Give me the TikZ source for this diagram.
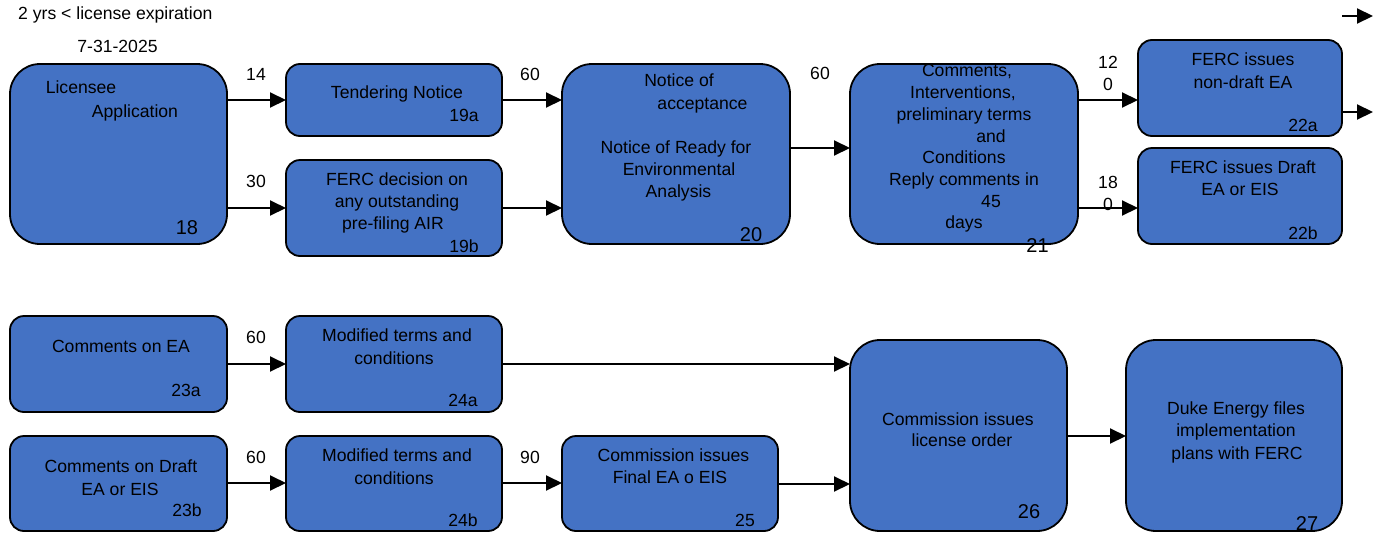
\documentclass[tikz,border=0pt]{standalone}
\usepackage{fontspec}
\setmainfont{Liberation Sans}
\usetikzlibrary{arrows.meta}
\definecolor{boxblue}{HTML}{4472C4}
\begin{document}
\begin{tikzpicture}[x=1pt,y=-1pt,
  box/.style={draw=black, line width=1.8pt, fill=boxblue, rounded corners=14pt, inner sep=0pt, outer sep=0pt},
  bigbox/.style={box, rounded corners=30pt},
  arr/.style={line width=2pt, -{Triangle[length=16pt,width=15pt]}},
  txt/.style={font=\fontsize{17.6}{21}\selectfont, inner sep=0pt, anchor=base},
  num/.style={font=\fontsize{20}{24}\selectfont, inner sep=0pt, anchor=base}]
\fill[white] (0,0) rectangle (1373,533);
\useasboundingbox (0,0) rectangle (1373,533);
% boxes
\node[bigbox, minimum width=217pt, minimum height=180pt] (n18) at (118.5,154) {};
\node[box, minimum width=216pt, minimum height=72pt] (n19a) at (394,100) {};
\node[box, minimum width=216pt, minimum height=96pt] (n19b) at (394,208) {};
\node[bigbox, minimum width=228pt, minimum height=180pt] (n20) at (676,154) {};
\node[bigbox, minimum width=228pt, minimum height=180pt] (n21) at (964,154) {};
\node[box, minimum width=204pt, minimum height=96pt] (n22a) at (1240,88) {};
\node[box, minimum width=204pt, minimum height=96pt] (n22b) at (1240,196) {};
\node[box, minimum width=217pt, minimum height=96pt] (n23a) at (118.5,364) {};
\node[box, minimum width=217pt, minimum height=95pt] (n23b) at (118.5,483.5) {};
\node[box, minimum width=216pt, minimum height=96pt] (n24a) at (394,364) {};
\node[box, minimum width=216pt, minimum height=95pt] (n24b) at (394,483.5) {};
\node[box, minimum width=216pt, minimum height=95pt] (n25) at (670,483.5) {};
\node[bigbox, minimum width=217pt, minimum height=191pt] (n26) at (958.5,435.5) {};
\node[bigbox, minimum width=216pt, minimum height=191pt] (n27) at (1234,435.5) {};
% helper rows
\coordinate (r100) at (0,100);
\coordinate (r208) at (0,208);
\coordinate (r148) at (0,148);
\coordinate (r112) at (0,112);
\coordinate (r364) at (0,364);
\coordinate (r483) at (0,483);
\coordinate (r484) at (0,484);
\coordinate (r436) at (0,436);
\coordinate (out1) at (1373,112);
\coordinate (tl0) at (1342,16);
\coordinate (tl1) at (1373,16);
% connectors
\draw[arr] (n18.east |- r100) -- (n19a.west |- r100);
\draw[arr] (n18.east |- r208) -- (n19b.west |- r208);
\draw[arr] (n19a.east |- r100) -- (n20.west |- r100);
\draw[arr] (n19b.east |- r208) -- (n20.west |- r208);
\draw[arr] (n20.east |- r148) -- (n21.west |- r148);
\draw[arr] (n21.east |- r100) -- (n22a.west |- r100);
\draw[arr] (n21.east |- r208) -- (n22b.west |- r208);
\draw[arr] (n22a.east |- r112) -- (out1);
\draw[arr] (tl0) -- (tl1);
\draw[arr] (n23a.east |- r364) -- (n24a.west |- r364);
\draw[arr] (n23b.east |- r483) -- (n24b.west |- r483);
\draw[arr] (n24a.east |- r364) -- (n26.west |- r364);
\draw[arr] (n24b.east |- r483) -- (n25.west |- r483);
\draw[arr] (n25.east |- r484) -- (n26.west |- r484);
\draw[arr] (n26.east |- r436) -- (n27.west |- r436);
% header texts
\node[txt, anchor=base west] (hdr) at (18,19) {2 yrs < license expiration};
\node[txt] (date) at (117.5,52) {7-31-2025};
% edge labels
\node[txt] (e14) at (256,80) {14};
\node[txt] (e30) at (256,187) {30};
\node[txt] (e60a) at (530,80) {60};
\node[txt] (e60b) at (820,79) {60};
\node[txt] (e120a) at (1108,68) {12};
\node[txt] (e120b) at (1108,90) {0};
\node[txt] (e180a) at (1108,188) {18};
\node[txt] (e180b) at (1108,210) {0};
\node[txt] (e60c) at (256,343) {60};
\node[txt] (e60d) at (256,463) {60};
\node[txt] (e90) at (530,463) {90};
% 18
\node[txt] (l18a) at (81,93) {Licensee};
\node[txt] (l18b) at (135,117) {Application};
\node[num] (k18) at (187,234) {18};
% 19a, 19b
\node[txt] (l19a) at (397,98) {Tendering Notice};
\node[txt] (k19a) at (464,121) {19a};
\node[txt] (l19b1) at (397,185) {FERC decision on};
\node[txt] (l19b2) at (397,207) {any outstanding};
\node[txt] (l19b3) at (393,229) {pre-filing AIR};
\node[txt] (k19b) at (464,252) {19b};
% 20
\node[txt] (l20a) at (679,86) {Notice of};
\node[txt] (l20b) at (702.5,109) {acceptance};
\node[txt] (l20c) at (676,153) {Notice of Ready for};
\node[txt] (l20d) at (679,175) {Environmental};
\node[txt] (l20e) at (678.5,197) {Analysis};
\node[num] (k20) at (751,241.5) {20};
% 21
\node[txt] (l21a) at (967,76) {Comments,};
\node[txt] (l21b) at (963,98) {Interventions,};
\node[txt] (l21c) at (964,120) {preliminary terms};
\node[txt] (l21d) at (991,142) {and};
\node[txt] (l21e) at (964,163) {Conditions};
\node[txt] (l21f) at (964,185) {Reply comments in};
\node[txt] (l21g) at (991,207) {45};
\node[txt] (l21h) at (964,228) {days};
\node[num] (k21) at (1037.5,252) {21};
% 22a, 22b
\node[txt] (l22a1) at (1243,65) {FERC issues};
\node[txt] (l22a2) at (1243,88) {non-draft EA};
\node[txt] (k22a) at (1303,131.5) {22a};
\node[txt] (l22b1) at (1243,173) {FERC issues Draft};
\node[txt] (l22b2) at (1240,195) {EA or EIS};
\node[txt] (k22b) at (1303,239) {22b};
% 23a, 23b
\node[txt] (l23a) at (121,352.5) {Comments on EA};
\node[txt] (k23a) at (186,396) {23a};
\node[txt] (l23b1) at (121,472) {Comments on Draft};
\node[txt] (l23b2) at (120,495) {EA or EIS};
\node[txt] (k23b) at (187,516) {23b};
% 24a, 24b
\node[txt] (l24a1) at (397,341.5) {Modified terms and};
\node[txt] (l24a2) at (394,364) {conditions};
\node[txt] (k24a) at (463,406.5) {24a};
\node[txt] (l24b1) at (397,461.5) {Modified terms and};
\node[txt] (l24b2) at (394,484) {conditions};
\node[txt] (k24b) at (463,526.5) {24b};
% 25
\node[txt] (l25a) at (673.5,461.5) {Commission issues};
\node[txt] (l25b) at (670,483.5) {Final EA o EIS};
\node[txt] (k25) at (745,526.5) {25};
% 26
\node[txt] (l26a) at (958,425) {Commission issues};
\node[txt] (l26b) at (962,446) {license order};
\node[num] (k26) at (1029,518) {26};
% 27
\node[txt] (l27a) at (1236,414) {Duke Energy files};
\node[txt] (l27b) at (1236,436.5) {implementation};
\node[txt] (l27c) at (1237,459) {plans with FERC};
\node[num] (k27) at (1307,530) {27};
\end{tikzpicture}
\end{document}
